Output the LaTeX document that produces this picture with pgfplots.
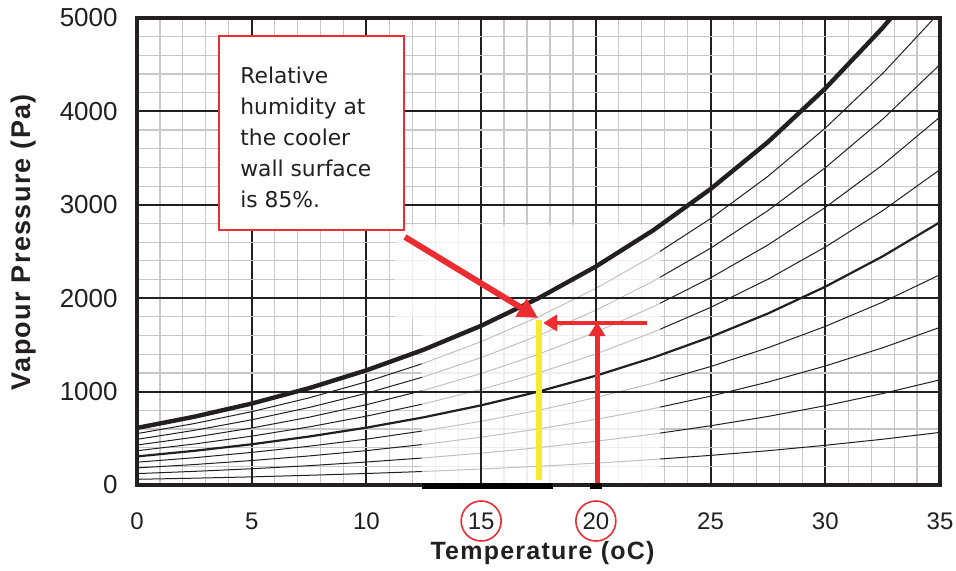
\documentclass[border=0pt]{standalone}
\usepackage{fontspec}
\setmainfont{Liberation Sans}
\newfontfamily\notefont{DejaVu Sans}
\newfontfamily\labelfont[LetterSpace=5]{Liberation Sans}
\usepackage{pgfplots}
\pgfplotsset{compat=1.18}
\usepackage{pgfplotstable}
\usetikzlibrary{arrows.meta}

\definecolor{ink}{RGB}{35,31,32}
\definecolor{minorgrid}{RGB}{200,200,203}
\definecolor{markred}{RGB}{235,45,50}
\definecolor{markyellow}{RGB}{245,236,50}

% vapour pressure (Pa), every 2.5 oC, for 100% down to 10% RH
\pgfplotstableread{
T    p100 p90  p80  p70  p60  p50  p40  p30  p20  p10
0    611  550  489  428  367  306  244  183  122  61
2.5  731  658  585  512  439  366  292  219  146  73
5    872  785  698  610  523  436  349  262  174  87
7.5  1037 933  830  726  622  519  415  311  207  104
10   1228 1105 982  860  737  614  491  368  246  123
12.5 1449 1304 1159 1014 869  725  580  435  290  145
15   1705 1535 1364 1194 1023 853  682  512  341  171
17.5 2000 1800 1600 1400 1200 1000 800  600  400  200
20   2339 2105 1871 1637 1403 1170 936  702  468  234
22.5 2727 2454 2182 1909 1636 1364 1091 818  545  273
25   3169 2852 2535 2218 1901 1585 1268 951  634  317
27.5 3672 3305 2938 2570 2203 1836 1469 1102 734  367
30   4246 3821 3397 2972 2548 2123 1698 1274 849  425
32.5 4895 4406 3916 3427 2937 2448 1958 1469 979  490
35   5628 5065 4502 3940 3377 2814 2251 1688 1126 563
}\vp

\begin{document}
\begin{tikzpicture}
\begin{axis}[
  name=ax,
  scale only axis, width=401.5pt, height=233.5pt,
  xmin=0, xmax=35, ymin=0, ymax=5000,
  xtick={0,5,...,35}, ytick={0,1000,...,5000},
  minor x tick num=4, minor y tick num=4,
  grid=both,
  major grid style={ink, line width=1pt},
  minor grid style={minorgrid, line width=0.6pt},
  tick style={draw=none},
  axis line style={ink, line width=2pt},
  ticklabel style={font=\fontsize{12}{14}\selectfont, text=ink},
  /pgf/number format/assume math mode=true,
  /pgf/number format/1000 sep={},
  yticklabel style={anchor=east, inner sep=0pt, xshift=-9.5pt,
    font=\fontsize{13}{15}\selectfont},
  xticklabel style={anchor=center, inner sep=0pt, yshift=-18pt},
  xlabel={Temperature (oC)},
  ylabel={Vapour Pressure (Pa)},
  xlabel style={at={(axis description cs:0.505,-0.1456)}, anchor=center,
    font=\labelfont\bfseries\fontsize{12.5}{15}\selectfont, text=ink},
  ylabel style={at={(axis description cs:-0.1407,0.52)}, anchor=center,
    font=\labelfont\bfseries\fontsize{13.5}{15}\selectfont, text=ink},
]
% thin RH lines
\addplot[ink, line width=0.5pt] table[x=T, y=p90] {\vp};
\addplot[ink, line width=0.5pt] table[x=T, y=p80] {\vp};
\addplot[ink, line width=0.5pt] table[x=T, y=p70] {\vp};
\addplot[ink, line width=0.5pt] table[x=T, y=p60] {\vp};
\addplot[ink, line width=0.5pt] table[x=T, y=p40] {\vp};
\addplot[ink, line width=0.5pt] table[x=T, y=p30] {\vp};
\addplot[ink, line width=0.5pt] table[x=T, y=p20] {\vp};
\addplot[ink, line width=0.5pt] table[x=T, y=p10] {\vp};

% washed-out patch in the middle
\fill[white, opacity=0.72] (axis cs:11.25,2784) -- (axis cs:22.8,2784) -- (axis cs:22.8,0)
  -- (axis cs:12.42,0) -- (axis cs:12.42,1788) -- (axis cs:11.25,1788) -- cycle;
\draw[ink, line width=1pt] (axis cs:15,0) -- (axis cs:15,2784);
\draw[ink, line width=1pt] (axis cs:20,0) -- (axis cs:20,2784);
\draw[ink, line width=1pt] (axis cs:11.25,2000) -- (axis cs:22.8,2000);
\draw[ink, line width=1pt] (axis cs:12.42,1000) -- (axis cs:22.8,1000);

% 50% and saturation
\addplot[ink, line width=1.1pt] table[x=T, y=p50] {\vp};
\addplot[ink, line width=2.2pt] table[x=T, y=p100] {\vp};

% note box
\draw[markred, line width=1pt, fill=white] (axis cs:3.57,2730) rectangle (axis cs:11.64,4807);
\node[anchor=north west, inner sep=0pt, align=left, text=ink,
  font=\notefont\fontsize{10.9}{15.4}\selectfont] at (axis cs:4.49,4475)
  {Relative\\humidity at\\the cooler\\wall surface\\is 85\%.};

\draw[markyellow, line width=3pt] (axis cs:17.52,50) -- (axis cs:17.52,1767);
\draw[markred, line width=3pt, -{Triangle[length=10pt,width=10pt]}]
  (axis cs:11.68,2655) -- (axis cs:17.48,1788);
\draw[markred, line width=2.4pt, -{Triangle[length=7pt,width=8pt]}]
  (axis cs:22.23,1735) -- (axis cs:17.7,1735);
\draw[markred, line width=2.5pt, -{Triangle[length=7pt,width=8pt]}]
  (axis cs:20.05,0) -- (axis cs:20.05,1745);

\coordinate (b1) at (axis cs:12.42,0);
\coordinate (b2) at (axis cs:18.13,0);
\coordinate (b3) at (axis cs:19.75,0);
\coordinate (b4) at (axis cs:20.27,0);
\coordinate (c15) at (axis cs:15,0);
\coordinate (c20) at (axis cs:20,0);
\end{axis}

\draw[ink, line width=2pt] (ax.south west) -- (ax.south east);
\draw[black, line width=3pt] ([yshift=-0.6pt]b1) -- ([yshift=-0.6pt]b2);
\draw[black, line width=3pt] ([yshift=-0.6pt]b3) -- ([yshift=-0.6pt]b4);
\draw[markred, line width=0.8pt] ([yshift=-18pt]c15) circle (10pt);
\draw[markred, line width=0.8pt] ([yshift=-18pt]c20) circle (10pt);

\pgfresetboundingbox
\path[use as bounding box] ([xshift=-68.5pt, yshift=-43pt]ax.south west)
  rectangle ([xshift=8pt, yshift=9pt]ax.north east);
\end{tikzpicture}
\end{document}
